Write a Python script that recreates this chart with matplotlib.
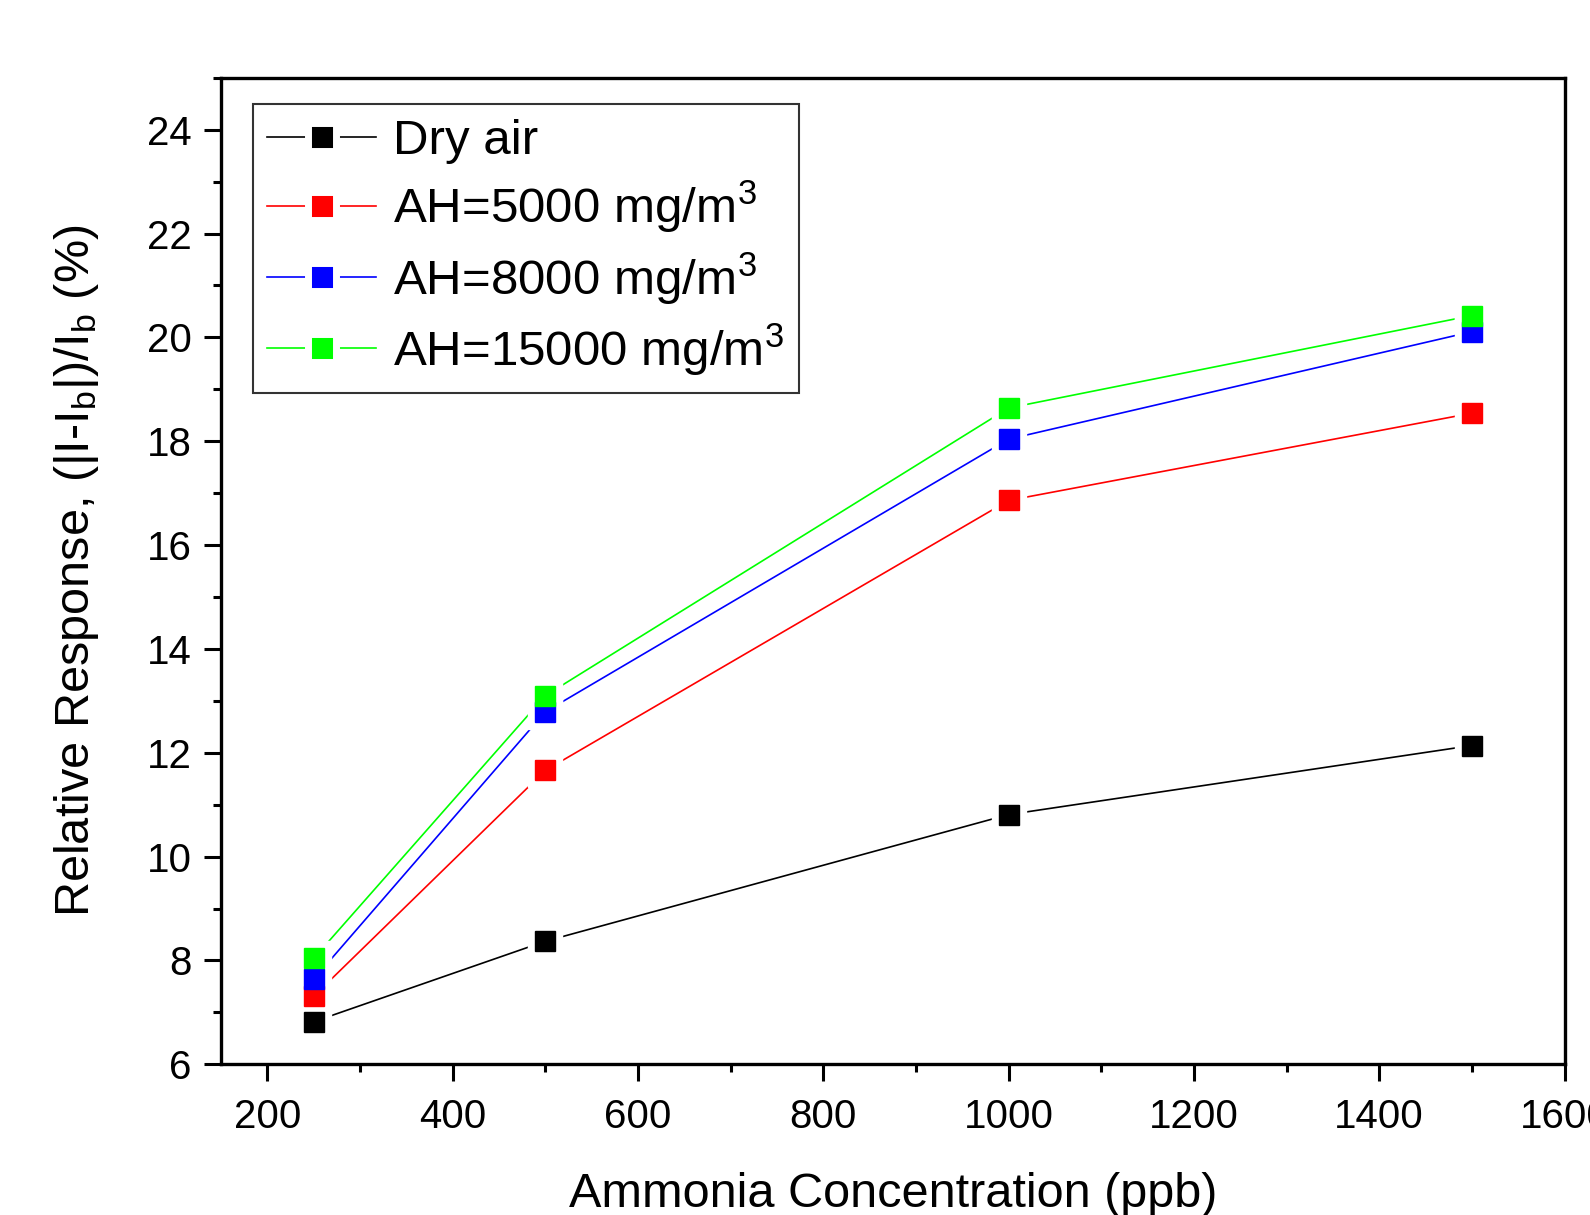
import matplotlib
matplotlib.use("Agg")
import matplotlib.pyplot as plt
from matplotlib.lines import Line2D
from matplotlib.ticker import MultipleLocator

plt.rcParams['font.family'] = ['Liberation Sans', 'DejaVu Sans']
plt.rcParams['mathtext.fontset'] = 'custom'
plt.rcParams['mathtext.rm'] = 'Liberation Sans'
plt.rcParams['mathtext.it'] = 'Liberation Sans:italic'

concentration = [250, 500, 1000, 1500]
dry_air = [6.82, 8.37, 10.81, 12.14]
ah_5000 = [7.31, 11.66, 16.86, 18.54]
ah_8000 = [7.64, 12.79, 18.04, 20.11]
ah_15000 = [8.04, 13.10, 18.64, 20.42]

series_values = [dry_air, ah_5000, ah_8000, ah_15000]
series_labels = ['Dry air', r'AH=5000 mg/m$^\mathregular{3}$',
                 r'AH=8000 mg/m$^\mathregular{3}$', r'AH=15000 mg/m$^\mathregular{3}$']
series_colors = ['#000000', '#ff0000', '#0000ff', '#00ff00']

fig = plt.figure(figsize=(15.9, 12.15), dpi=100)
ax = fig.add_axes([0.139, 0.124, 0.845, 0.812])

for vals, c in zip(series_values, series_colors):
    ax.plot(concentration, vals, color=c, lw=1.2, zorder=2)
for vals in series_values:
    ax.plot(concentration, vals, ls='none', marker='s', ms=24, color='white', zorder=3)
for vals, c in zip(series_values, series_colors):
    ax.plot(concentration, vals, ls='none', marker='s', ms=15, color=c, zorder=4)

ax.set_xlim(150, 1600)
ax.set_ylim(6, 25)
ax.xaxis.set_major_locator(MultipleLocator(200))
ax.xaxis.set_minor_locator(MultipleLocator(100))
ax.yaxis.set_major_locator(MultipleLocator(2))
ax.yaxis.set_minor_locator(MultipleLocator(1))
ax.tick_params(which='major', direction='out', length=12, width=2.2, labelsize=29, pad=9)
ax.tick_params(axis='x', which='major', pad=12)
ax.tick_params(which='minor', direction='out', length=6, width=2.2)
for s in ax.spines.values():
    s.set_linewidth(2.4)

ax.set_xlabel('Ammonia Concentration (ppb)', fontsize=35, labelpad=26)
ax.set_ylabel(r'Relative Response, (|I-I$_\mathregular{b}$|)/I$_\mathregular{b}$ (%)', fontsize=35, labelpad=33)

handles = [Line2D([], [], color=c, lw=1.2, marker='s', ms=20, mfc=c, mec='white', mew=5)
           for c in series_colors]
leg = ax.legend(handles, series_labels, loc='upper left', bbox_to_anchor=(0.0235, 0.973),
                borderaxespad=0, fontsize=35.5, frameon=True, fancybox=False,
                handlelength=2.2, handletextpad=0.35, labelspacing=0.3, borderpad=0.3)
leg.get_frame().set_edgecolor('black')
leg.get_frame().set_linewidth(1.5)

fig.savefig('out.png', dpi=100)
